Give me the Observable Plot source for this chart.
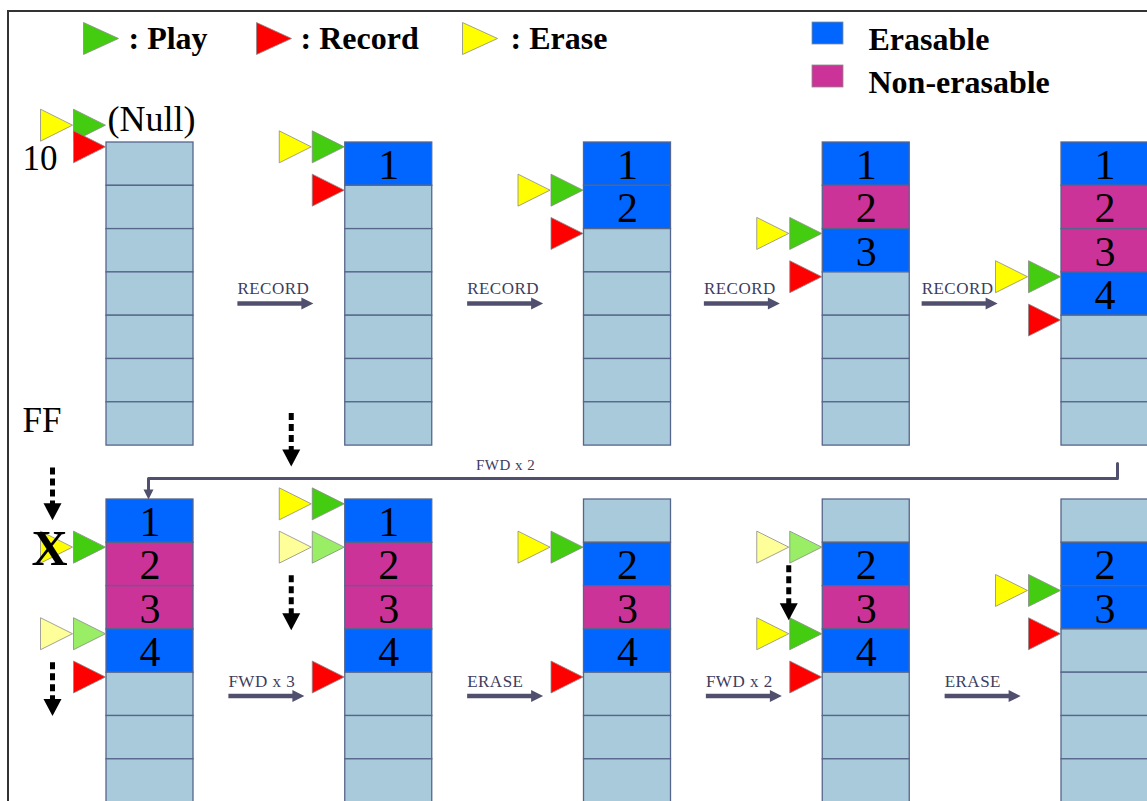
<!DOCTYPE html>
<html><head><meta charset="utf-8">
<script src="https://cdn.jsdelivr.net/npm/d3@7"></script>
<script src="https://cdn.jsdelivr.net/npm/@observablehq/plot@0.6"></script>
<style>
html,body{margin:0;padding:0;background:#fff;overflow:hidden}
#wrap{position:relative;width:1147px;height:801px}
#chart svg{display:block}
#frame{position:absolute;left:7px;top:10px;width:1200px;height:900px;border-left:2px solid #333;border-top:2px solid #333;pointer-events:none}
</style></head><body>
<div id="wrap"><div id="chart"></div><div id="frame"></div></div>
<script>
// ---------------- data ----------------
const legendPointers = [
  {type: "play", label: ": Play"},
  {type: "record", label: ": Record"},
  {type: "erase", label: ": Erase"}
];
const legendKinds = [
  {kind: "E", label: "Erasable"},
  {kind: "N", label: "Non-erasable"}
];
const cellsPerColumn = 7;
// cell contents, per column (E = erasable, N = non-erasable, - = empty)
const topLabels = [[], ["1"], ["1", "2"], ["1", "2", "3"], ["1", "2", "3", "4"]];
const topKinds = [[], ["E"], ["E", "E"], ["E", "N", "E"], ["E", "N", "N", "E"]];
const bottomLabels = [["1", "2", "3", "4"], ["1", "2", "3", "4"], ["", "2", "3", "4"], ["", "2", "3", "4"], ["", "2", "3"]];
const bottomKinds = [["E", "N", "N", "E"], ["E", "N", "N", "E"], ["-", "E", "N", "E"], ["-", "E", "N", "E"], ["-", "E", "E"]];
const topOps = ["RECORD", "RECORD", "RECORD", "RECORD"];
const bottomOps = ["FWD x 3", "ERASE", "FWD x 2", "ERASE"];
const linkOp = "FWD x 2";
// pointers: row, column, type, cell boundary, style
const pointers = [
  ["top", 0, "erase", -0.5, "normal"], ["top", 0, "play", -0.5, "normal"], ["top", 0, "record", 0, "normal"],
  ["top", 1, "erase", 0, "normal"], ["top", 1, "play", 0, "normal"], ["top", 1, "record", 1, "normal"],
  ["top", 2, "erase", 1, "normal"], ["top", 2, "play", 1, "normal"], ["top", 2, "record", 2, "normal"],
  ["top", 3, "erase", 2, "normal"], ["top", 3, "play", 2, "normal"], ["top", 3, "record", 3, "normal"],
  ["top", 4, "erase", 3, "normal"], ["top", 4, "play", 3, "normal"], ["top", 4, "record", 4, "normal"],
  ["bottom", 0, "erase", 1, "crossed"], ["bottom", 0, "play", 1, "normal"],
  ["bottom", 0, "erase", 3, "faded"], ["bottom", 0, "play", 3, "faded"], ["bottom", 0, "record", 4, "normal"],
  ["bottom", 1, "erase", 0, "normal"], ["bottom", 1, "play", 0, "normal"],
  ["bottom", 1, "erase", 1, "faded"], ["bottom", 1, "play", 1, "faded"], ["bottom", 1, "record", 4, "normal"],
  ["bottom", 2, "erase", 1, "normal"], ["bottom", 2, "play", 1, "normal"], ["bottom", 2, "record", 4, "normal"],
  ["bottom", 3, "erase", 1, "faded"], ["bottom", 3, "play", 1, "faded"],
  ["bottom", 3, "erase", 3, "normal"], ["bottom", 3, "play", 3, "normal"], ["bottom", 3, "record", 4, "normal"],
  ["bottom", 4, "erase", 2, "normal"], ["bottom", 4, "play", 2, "normal"], ["bottom", 4, "record", 3, "normal"]
];
// dotted pointer moves: row, column, lane, from, to (in cell units)
const moves = [
  ["bottom", 0, "erase", -0.74, 0.48],
  ["bottom", 0, "erase", 3.76, 5.0],
  ["bottom", 1, "erase", -2.0, -0.76],
  ["bottom", 1, "erase", 1.75, 3.02],
  ["bottom", 3, "gap", 1.52, 2.79]
];
const sideTexts = [
  {text: "10", pos: 0.37},
  {text: "FF", pos: 6.42}
];
const nullText = "(Null)";

// ---------------- layout ----------------
const W = 1147, H = 801;
const colW = 87, cellH = 43.3;
const colLeft = c => 106 + c * 238.75;
const rowTop = {top: 142, bottom: 499};
const yAt = (row, p) => rowTop[row] + p * cellH;
const kindColor = {E: "#0066ff", N: "#cc3399", "-": "#a8cadb"};
const pointerColor = {
  play: {normal: "#44cc11", faded: "#99ee66", crossed: "#44cc11"},
  erase: {normal: "#ffff00", faded: "#ffff99", crossed: "#ffff00"},
  record: {normal: "#ff0000", faded: "#ff8888", crossed: "#ff0000"}
};
const arrowColor = "#50506e";
const tri = (w, h) => ({draw(ctx) { ctx.moveTo(0, 0); ctx.lineTo(-w, -h / 2); ctx.lineTo(-w, h / 2); ctx.closePath(); }});
const triDown = (w, h) => ({draw(ctx) { ctx.moveTo(0, 0); ctx.lineTo(-w / 2, -h); ctx.lineTo(w / 2, -h); ctx.closePath(); }});
const ptrSym = tri(32, 32);
const legendSym = tri(35, 32);

// cells
const cells = [];
for (const [row, labels, kinds] of [["top", topLabels, topKinds], ["bottom", bottomLabels, bottomKinds]]) {
  for (let c = 0; c < 5; c++) {
    for (let i = 0; i < cellsPerColumn; i++) {
      const kind = kinds[c][i] || "-";
      const label = labels[c][i] || "";
      cells.push({x1: colLeft(c), x2: colLeft(c) + colW, y1: yAt(row, i), y2: yAt(row, i + 1),
        cx: colLeft(c) + colW / 2, cy: yAt(row, i + 0.53), kind, label});
    }
  }
}
// pointers
const ptrData = pointers.map(([row, c, type, pos, style]) => ({
  x: colLeft(c) - 1 - (type === "erase" ? 33 : 0),
  y: yAt(row, pos + 0.1),
  color: pointerColor[type][style], style, type
}));
const crossed = ptrData.filter(d => d.style === "crossed").map(d => ({x: d.x - 23, y: d.y + 2}));
// dotted moves
const moveData = moves.map(([row, c, lane, a, b]) => {
  const x = lane === "erase" ? colLeft(c) - 1 - 33 - 16 - 4 : colLeft(c) - 34;
  return {x, y1: yAt(row, a), y2: yAt(row, b)};
});
// transition arrows
const transitions = [];
for (const [row, ops, ay] of [["top", topOps, 3.72], ["bottom", bottomOps, 4.54]]) {
  ops.forEach((op, c) => {
    const nudge = row === "top" ? [6, -3, -5, -26][c] : -3;
    const mid = (colLeft(c) + colW + colLeft(c + 1)) / 2 + nudge;
    transitions.push({op, x1: mid - 38, x2: mid + 38, y: yAt(row, ay)});
  });
}
// connector from top col 4 to bottom col 0
const laneY = rowTop.bottom - 21;
const conn = [
  {x: colLeft(4) + 56, y: yAt("top", cellsPerColumn) + 18},
  {x: colLeft(4) + 56, y: laneY},
  {x: colLeft(0) + 42, y: laneY},
  {x: colLeft(0) + 42, y: rowTop.bottom - 8}
];
// legend layout
const legendTriX = [118, 291, 497];
const legendTextX = [128, 300, 510];
const legendPtr = legendPointers.map((d, i) => ({x: legendTriX[i], y: 38, tx: legendTextX[i], label: d.label, color: pointerColor[d.type].normal}));
const legendSq = legendKinds.map((d, i) => ({x1: 812, x2: 843, y1: 22 + i * 43, y2: 44 + i * 43, ty: 39 + i * 43, label: d.label, color: kindColor[d.kind]}));

const font = "Liberation Serif, Times New Roman, serif";
const svg = Plot.plot({
  width: W, height: H, margin: 0,
  x: {domain: [0, W], range: [0, W], axis: null},
  y: {domain: [0, H], range: [0, H], axis: null},
  style: {background: "white", fontFamily: font},
  marks: [
    Plot.rect(cells, {x1: "x1", x2: "x2", y1: "y1", y2: "y2", fill: d => kindColor[d.kind], stroke: "#56658a", strokeWidth: 1.3}),
    Plot.text(cells.filter(d => d.label), {x: "cx", y: "cy", text: "label", fontSize: 42, fill: "black", fontFamily: font}),
    Plot.dot(ptrData, {x: "x", y: "y", symbol: ptrSym, r: 5, fill: "color", stroke: "#8a8a8a", strokeWidth: 0.8}),
    Plot.text(crossed, {x: "x", y: "y", text: () => "X", fontSize: 50, fontWeight: "bold", fill: "black", fontFamily: font}),
    Plot.link(moveData, {x1: "x", x2: "x", y1: "y1", y2: d => d.y2 - 14, stroke: "black", strokeWidth: 5, strokeDasharray: "7,4"}),
    Plot.dot(moveData, {x: "x", y: "y2", symbol: triDown(18, 17), r: 5, fill: "black", stroke: "none"}),
    Plot.link(transitions, {x1: "x1", x2: d => d.x2 - 10, y1: "y", y2: "y", stroke: arrowColor, strokeWidth: 4.5}),
    Plot.dot(transitions, {x: "x2", y: "y", symbol: tri(12, 12), r: 5, fill: arrowColor, stroke: "none"}),
    Plot.text(transitions, {x: "x1", y: d => d.y - 15, text: "op", textAnchor: "start", fontSize: 17, fill: "#3c3c5e", fontFamily: font}),
    Plot.line(conn, {x: "x", y: "y", stroke: arrowColor, strokeWidth: 3}),
    Plot.dot([conn[3]], {x: "x", y: d => d.y + 8, symbol: triDown(10, 10), r: 5, fill: arrowColor, stroke: "none"}),
    Plot.text([linkOp], {x: colLeft(2) - 108, y: laneY - 13, text: d => d, textAnchor: "start", fontSize: 15, fill: "#3c3c5e", fontFamily: font}),
    Plot.text(sideTexts, {x: 22, y: d => yAt("top", d.pos), text: "text", textAnchor: "start", fontSize: 35, fill: "black", fontFamily: font}),
    Plot.text([nullText], {x: colLeft(0) + 1, y: yAt("top", -0.53), text: d => d, textAnchor: "start", fontSize: 36, fill: "black", fontFamily: font}),
    Plot.dot(legendPtr, {x: "x", y: "y", symbol: legendSym, r: 5, fill: "color", stroke: "#8a8a8a", strokeWidth: 0.8}),
    Plot.text(legendPtr, {x: "tx", y: "y", text: "label", textAnchor: "start", fontSize: 32, fontWeight: "bold", fill: "black", fontFamily: font}),
    Plot.rect(legendSq, {x1: "x1", x2: "x2", y1: "y1", y2: "y2", fill: "color", stroke: "#8a8a8a", strokeWidth: 0.8}),
    Plot.text(legendSq, {x: 868, y: "ty", text: "label", textAnchor: "start", fontSize: 32, fontWeight: "bold", fill: "black", fontFamily: font})
  ]
});
document.getElementById("chart").appendChild(svg);
// small operation labels are slightly letter-spaced in the original
d3.select(svg).selectAll("text").filter(function() {
  const t = this.textContent; return topOps.includes(t) || bottomOps.includes(t) || t === linkOp;
}).style("letter-spacing", "0.5px");
</script>
</body></html>
